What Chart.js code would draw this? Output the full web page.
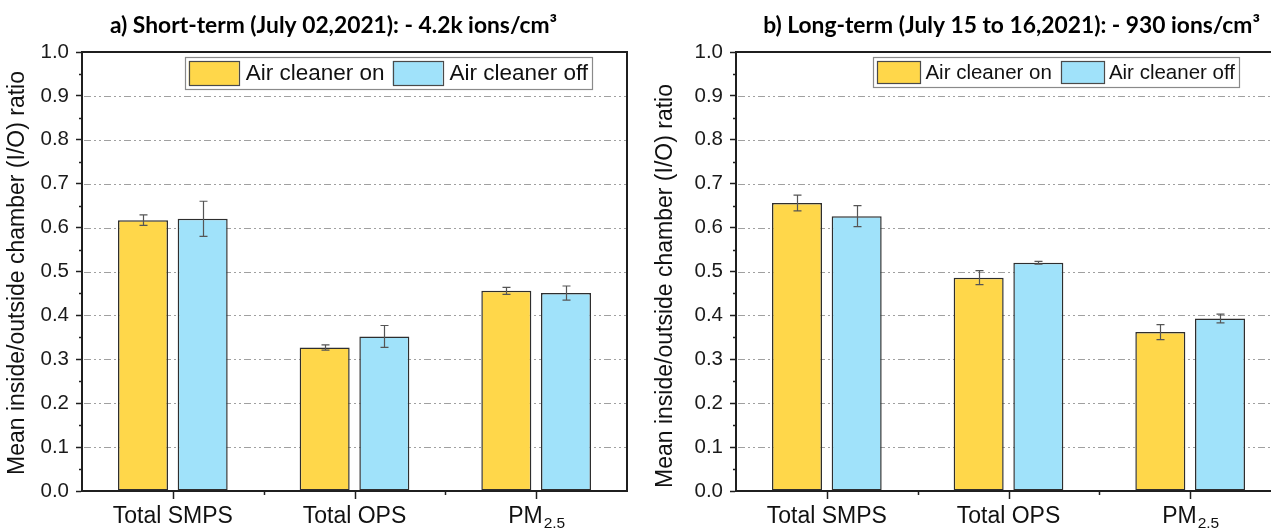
<!DOCTYPE html>
<html><head><meta charset="utf-8">
<script src="https://cdn.jsdelivr.net/npm/chart.js@4.4.1/dist/chart.umd.min.js"></script>
<style>
html,body{margin:0;padding:0;background:#fff;width:1271px;height:530px;overflow:hidden;position:relative;}
canvas{position:absolute;top:0;}
#c1{left:0px}
#c2{left:654px}
</style></head><body>
<canvas id="c1" width="666" height="530"></canvas>
<canvas id="c2" width="666" height="530"></canvas>
<script>
// ---- data ----
const categories = ['Total SMPS', 'Total OPS', 'PM_2.5'];
const seriesLabels = ['Air cleaner on', 'Air cleaner off'];
const shortOn = [0.617, 0.327, 0.456];
const shortOnErr = [0.012, 0.006, 0.008];
const shortOff = [0.620, 0.352, 0.451];
const shortOffErr = [0.040, 0.025, 0.016];
const longOn = [0.656, 0.486, 0.362];
const longOnErr = [0.018, 0.016, 0.017];
const longOff = [0.626, 0.520, 0.393];
const longOffErr = [0.024, 0.003, 0.010];
const yTickValues = [0.0, 0.1, 0.2, 0.3, 0.4, 0.5, 0.6, 0.7, 0.8, 0.9, 1.0];
const titleA = 'a) Short-term (July 02,2021): - 4.2k ions/cm\u00B3';
const titleB = 'b) Long-term (July 15 to 16,2021): - 930 ions/cm\u00B3';
const yAxisTitle = 'Mean inside/outside chamber (I/O) ratio';

const colorOn = '#FFD74A';
const colorOff = '#A0E2FA';
const AX = '#1f1f1f';
const FONT = "'Liberation Sans', Arial, sans-serif";

const decor = {
  id: 'decor',
  beforeDatasetsDraw(chart, args, o) {
    const {ctx, chartArea: a} = chart;
    const y = chart.scales.y;
    ctx.save();
    ctx.strokeStyle = '#a0a0a0';
    ctx.lineWidth = 1;
    ctx.setLineDash([7, 3, 2, 3, 2, 3]);
    y.ticks.forEach(t => {
      if (t.value <= 0 || t.value >= 1) return;
      const py = Math.round(y.getPixelForValue(t.value)) + 0.5;
      ctx.beginPath(); ctx.moveTo(a.left + 2, py); ctx.lineTo(a.right, py); ctx.stroke();
    });
    ctx.restore();
  },
  afterDatasetsDraw(chart, args, o) {
    const {ctx} = chart;
    const y = chart.scales.y;
    ctx.save();
    ctx.strokeStyle = '#555';
    ctx.lineWidth = 1.2;
    chart.data.datasets.forEach((ds, i) => {
      const meta = chart.getDatasetMeta(i);
      meta.data.forEach((bar, j) => {
        const v = ds.data[j], e = ds.errors[j];
        const y1 = y.getPixelForValue(v + e), y2 = y.getPixelForValue(v - e);
        const x = Math.round(bar.x) + 0.5;
        ctx.beginPath();
        ctx.moveTo(x, y1); ctx.lineTo(x, y2);
        ctx.moveTo(x - 4, y1); ctx.lineTo(x + 4, y1);
        ctx.moveTo(x - 4, y2); ctx.lineTo(x + 4, y2);
        ctx.stroke();
      });
    });
    ctx.restore();
  },
  afterDraw(chart, args, o) {
    const {ctx, chartArea: a} = chart;
    const y = chart.scales.y, x = chart.scales.x;
    ctx.save();
    // frame top & right
    ctx.strokeStyle = AX; ctx.lineWidth = 2;
    ctx.beginPath();
    ctx.moveTo(a.left, a.top); ctx.lineTo(a.right, a.top); ctx.lineTo(a.right, a.bottom);
    ctx.stroke();
    // minor y ticks
    ctx.lineWidth = 1.5;
    for (let k = 0; k < yTickValues.length - 1; k++) {
      const mv = (yTickValues[k] + yTickValues[k + 1]) / 2;
      const py = Math.round(y.getPixelForValue(mv)) + 0.5;
      ctx.beginPath(); ctx.moveTo(a.left - 3, py); ctx.lineTo(a.left, py); ctx.stroke();
    }
    // x ticks: major at centers, minor at boundaries
    const n = categories.length;
    for (let j = 0; j < n; j++) {
      const px = Math.round(x.getPixelForValue(j)) + 0.5;
      ctx.beginPath(); ctx.moveTo(px, a.bottom); ctx.lineTo(px, a.bottom + 8); ctx.stroke();
      if (j < n - 1) {
        const bx = Math.round((x.getPixelForValue(j) + x.getPixelForValue(j + 1)) / 2) + 0.5;
        ctx.beginPath(); ctx.moveTo(bx, a.bottom); ctx.lineTo(bx, a.bottom + 4); ctx.stroke();
      }
    }
    // x labels
    ctx.fillStyle = '#111';
    ctx.textBaseline = 'alphabetic';
    categories.forEach((lab, j) => {
      const cx = x.getPixelForValue(j);
      const parts = lab.split('_');
      ctx.font = '23px ' + FONT;
      const w0 = ctx.measureText(parts[0]).width;
      let w1 = 0;
      if (parts[1]) { ctx.font = '15.5px ' + FONT; w1 = ctx.measureText(parts[1]).width; }
      const sx = cx - (w0 + w1) / 2;
      ctx.font = '23px ' + FONT; ctx.textAlign = 'left';
      ctx.fillText(parts[0], sx, 523);
      if (parts[1]) { ctx.font = '15.5px ' + FONT; ctx.fillText(parts[1], sx + w0 + 1, 528); }
    });
    // y axis title
    ctx.save();
    ctx.translate(o.yTitleX, o.yTitleY);
    ctx.rotate(-Math.PI / 2);
    ctx.font = '23px ' + FONT;
    ctx.textAlign = 'center'; ctx.textBaseline = 'middle';
    ctx.fillStyle = '#111';
    ctx.fillText(yAxisTitle, 0, 0);
    ctx.restore();
    // panel title
    ctx.font = "bold " + o.titleSize + "px Lato, 'Open Sans', sans-serif";
    ctx.textAlign = 'center'; ctx.textBaseline = 'alphabetic';
    ctx.fillStyle = '#000';
    ctx.fillText(o.title, o.titleX, 33);
    // legend
    const L = o.legend;
    ctx.font = L.fontSize + 'px ' + FONT;
    const items = chart.data.datasets.map(ds => ({label: ds.label, color: ds.backgroundColor, w: ctx.measureText(ds.label).width}));
    let total = L.pad;
    items.forEach((it, k) => { total += L.swatchW + L.gap + it.w + (k < items.length - 1 ? L.gap2 : L.pad); });
    const right = a.right - L.rightGap;
    const left = right - total;
    const top = L.top, h = L.height;
    ctx.fillStyle = '#fff';
    ctx.fillRect(left, top, total, h);
    ctx.strokeStyle = '#8a8a8a'; ctx.lineWidth = 1.2;
    ctx.strokeRect(Math.round(left) + 0.5, Math.round(top) + 0.5, Math.round(total), Math.round(h));
    let cx = left + L.pad;
    items.forEach((it, k) => {
      const sh = h - 2 * L.swatchPadY;
      ctx.fillStyle = it.color;
      ctx.fillRect(cx, top + L.swatchPadY, L.swatchW, sh);
      ctx.strokeStyle = '#4a4a4a'; ctx.lineWidth = 1.2;
      ctx.strokeRect(Math.round(cx) + 0.5, Math.round(top + L.swatchPadY) + 0.5, L.swatchW, sh);
      cx += L.swatchW + L.gap;
      ctx.fillStyle = '#111';
      ctx.textAlign = 'left'; ctx.textBaseline = 'middle';
      ctx.fillText(it.label, cx, top + h / 2 + 1);
      cx += it.w + L.gap2;
    });
    ctx.restore();
  }
};

function makeChart(id, onVals, onErr, offVals, offErr, po) {
  return new Chart(document.getElementById(id), {
    type: 'bar',
    data: {
      labels: categories,
      datasets: [
        {label: seriesLabels[0], data: onVals, errors: onErr, backgroundColor: colorOn, borderColor: '#2e2e2e', borderWidth: 1.5, borderSkipped: false,
         categoryPercentage: 0.657, barPercentage: 0.838},
        {label: seriesLabels[1], data: offVals, errors: offErr, backgroundColor: colorOff, borderColor: '#2e2e2e', borderWidth: 1.5, borderSkipped: false,
         categoryPercentage: 0.657, barPercentage: 0.838}
      ]
    },
    options: {
      responsive: false,
      animation: false,
      devicePixelRatio: 1,
      layout: {padding: {top: 52, right: 39, left: 0, bottom: 0}},
      plugins: {
        legend: {display: false},
        title: {display: false},
        tooltip: {enabled: false},
        decor: po
      },
      scales: {
        x: {
          offset: true,
          grid: {display: false},
          ticks: {display: false},
          border: {display: true, color: AX, width: 2},
          afterFit: s => { s.height = 39; }
        },
        y: {
          min: 0, max: 1,
          afterBuildTicks: s => { s.ticks = yTickValues.map(v => ({value: v})); },
          ticks: {
            callback: v => Number(v).toFixed(1),
            font: {family: FONT, size: 20.5},
            color: '#1a1a1a',
            padding: 7
          },
          grid: {drawOnChartArea: false, drawTicks: true, tickLength: 6, tickColor: AX, tickWidth: 1.5},
          border: {display: true, color: AX, width: 2},
          afterFit: s => { s.width = 82; }
        }
      }
    },
    plugins: [decor]
  });
}

makeChart('c1', shortOn, shortOnErr, shortOff, shortOffErr, {
  title: titleA, titleX: 333.5, titleSize: 22.8, yTitleX: 18, yTitleY: 273,
  legend: {fontSize: 22.5, swatchW: 50, gap: 7, gap2: 8, pad: 4, rightGap: 35, top: 57, height: 32, swatchPadY: 4}
});
makeChart('c2', longOn, longOnErr, longOff, longOffErr, {
  title: titleB, titleX: 357.6, titleSize: 22.8, yTitleX: 12, yTitleY: 286,
  legend: {fontSize: 20.5, swatchW: 43, gap: 5, gap2: 9, pad: 4, rightGap: 42, top: 57, height: 30, swatchPadY: 4}
});
</script>
</body></html>
